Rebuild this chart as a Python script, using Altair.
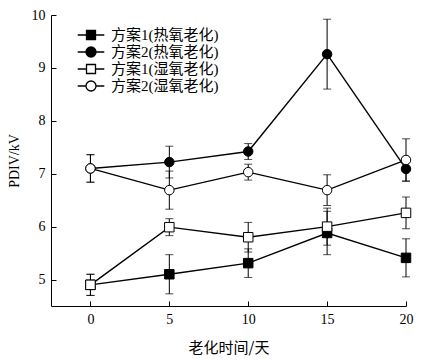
import altair as alt
import pandas as pd

days = [0, 5, 10, 15, 20]
series_names = ["方案1(热氧老化)", "方案2(热氧老化)", "方案1(湿氧老化)", "方案2(湿氧老化)"]
s1_thermal = [4.90, 5.10, 5.31, 5.88, 5.41]
s1_thermal_err = [0.20, 0.37, 0.27, 0.41, 0.36]
s2_thermal = [7.10, 7.22, 7.42, 9.26, 7.09]
s2_thermal_err = [0.26, 0.30, 0.15, 0.66, 0.23]
s1_humid = [4.90, 5.99, 5.80, 6.00, 6.26]
s1_humid_err = [0.20, 0.16, 0.28, 0.35, 0.30]
s2_humid = [7.10, 6.69, 7.03, 6.69, 7.26]
s2_humid_err = [0.26, 0.36, 0.15, 0.29, 0.40]
x_ticks = [0, 5, 10, 15, 20]
y_ticks = [5, 6, 7, 8, 9, 10]

shapes = ["square", "circle", "square", "circle"]
fills = ["black", "black", "white", "white"]
vals = [s1_thermal, s2_thermal, s1_humid, s2_humid]
errs = [s1_thermal_err, s2_thermal_err, s1_humid_err, s2_humid_err]

rows = []
for i, name in enumerate(series_names):
    for d, v, e in zip(days, vals[i], errs[i]):
        rows.append({"series": name, "order": i, "x": d, "y": v,
                     "lo": v - e, "hi": v + e, "shape": shapes[i], "fill": fills[i]})
df = pd.DataFrame(rows)

W, H = 355, 291
xs = alt.Scale(domain=[-2.5, 20], nice=False, zero=False)
ys = alt.Scale(domain=[4.5, 10], nice=False, zero=False)
LAT = "'Liberation Serif'"
CJK = "'Liberation Serif', 'Noto Sans CJK SC'"

xaxis = alt.Axis(values=x_ticks, tickSize=0, labelPadding=6, labelFont=LAT, labelFontSize=14,
                 labelColor="black", domainColor="black", grid=False, title="老化时间/天",
                 titleFont="'Noto Sans CJK SC'", titleFontSize=15, titleFontWeight="normal",
                 titlePadding=14, titleColor="black", labelFlush=False)
yaxis = alt.Axis(values=y_ticks, tickSize=0, labelPadding=6, labelFont=LAT, labelFontSize=14,
                 labelColor="black", domainColor="black", grid=False, title="PDIV/kV",
                 titleFont=LAT, titleFontSize=14, titleFontWeight="normal", titlePadding=10,
                 titleColor="black", labelFlush=False)

base = alt.Chart(df)
X = alt.X("x:Q", scale=xs, axis=xaxis)
Y = alt.Y("y:Q", scale=ys, axis=yaxis)

rules = base.mark_rule(color="black", strokeWidth=1).encode(
    x=X, y=alt.Y("lo:Q", scale=ys, axis=yaxis), y2="hi:Q", detail="series:N")
cap_lo = base.mark_tick(color="black", orient="horizontal", size=8, thickness=1).encode(
    x=X, y=alt.Y("lo:Q", scale=ys, axis=yaxis))
cap_hi = base.mark_tick(color="black", orient="horizontal", size=8, thickness=1).encode(
    x=X, y=alt.Y("hi:Q", scale=ys, axis=yaxis))
lines = base.mark_line(color="black", strokeWidth=1.4).encode(
    x=X, y=Y, detail="series:N", order="x:Q")

sq_path = "M-0.643,-0.643H0.643V0.643H-0.643Z"
ci_path = "M0.714,0A0.714,0.714,0,1,1,-0.714,0A0.714,0.714,0,1,1,0.714,0Z"
stub = "M-1.9,0H-0.643M0.643,0H1.9"
stub_c = "M-1.9,0H-0.714M0.714,0H1.9"

points = base.mark_point(stroke="black", strokeWidth=1, opacity=1).encode(
    x=X, y=Y,
    shape=alt.Shape("shape:N", scale=None),
    fill=alt.Fill("fill:N", scale=None),
    size=alt.value(90),
    order="order:Q",
)

legend_layer = base.transform_filter("false").mark_point(
    stroke="black", strokeWidth=1.3, opacity=1).encode(
    x=X, y=Y,
    shape=alt.Shape("series:N", scale=alt.Scale(domain=series_names,
                    range=[stub + sq_path, stub_c + ci_path, stub + sq_path, stub_c + ci_path]),
                    legend=alt.Legend(title=None, orient="none", legendX=32, legendY=12,
                                      symbolSize=196, symbolStrokeColor="black",
                                      symbolStrokeWidth=1.3, labelFont=CJK, labelFontSize=15,
                                      labelColor="black", labelOffset=12, rowPadding=1,
                                      padding=0, labelLimit=300)),
    fill=alt.Fill("series:N", scale=alt.Scale(domain=series_names, range=fills)),
)

main = alt.layer(rules, cap_lo, cap_hi, lines, points, legend_layer)

tick_layer = base.mark_point(opacity=0).encode(
    x=alt.X("x:Q", scale=xs, axis=alt.Axis(orient="top", offset=-H, values=x_ticks, labels=False,
                                            domain=False, grid=False, tickSize=5, tickColor="black",
                                            title=None)),
    y=alt.Y("y:Q", scale=ys, axis=alt.Axis(orient="right", offset=-W, values=y_ticks, labels=False,
                                            domain=False, grid=False, tickSize=5, tickColor="black",
                                            title=None)),
)

chart = alt.layer(main, tick_layer).resolve_scale(x="independent", y="independent").properties(
    width=W, height=H,
    padding={"left": 43, "top": 7, "right": 8, "bottom": 55},
    autosize=alt.AutoSizeParams(type="none"),
    background="white",
).configure_view(stroke=None)

chart.save("out.html", embed_options={"renderer": "svg", "actions": False})
